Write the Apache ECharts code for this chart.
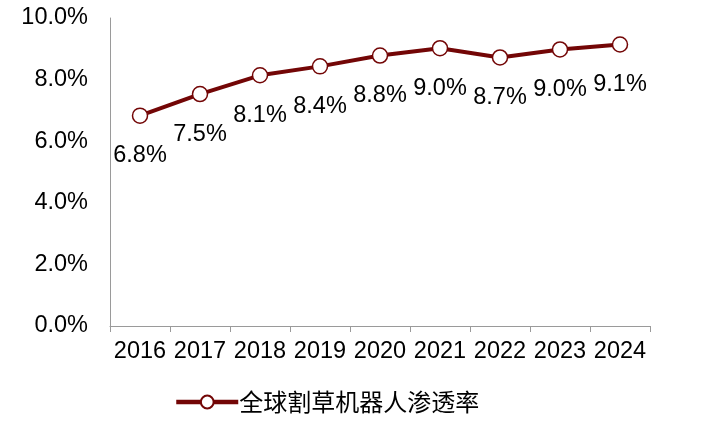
<!DOCTYPE html>
<html>
<head>
<meta charset="utf-8">
<script src="https://cdn.jsdelivr.net/npm/echarts@6/dist/echarts.min.js"></script>
<style>html,body{margin:0;padding:0;background:#fff}#c{width:713px;height:423px}</style>
</head>
<body>
<div id="c"></div>
<script>
const categories = ['2016','2017','2018','2019','2020','2021','2022','2023','2024'];
const penetration = [6.83, 7.53, 8.14, 8.43, 8.78, 9.02, 8.72, 8.98, 9.14];
const seriesName = '全球割草机器人渗透率';
const yTicks = { min: 0, max: 10, interval: 2 };

const FONT = 'Liberation Sans, Arial, sans-serif';
const chart = echarts.init(document.getElementById('c'));
chart.setOption({
  animation: false,
  grid: { left: 110, right: 63, top: 18, bottom: 97 },
  xAxis: {
    type: 'category',
    data: categories,
    boundaryGap: true,
    axisLine: { lineStyle: { color: '#9a9a9a', width: 1 } },
    axisTick: { show: true, interval: 0, alignWithLabel: false, length: 6, lineStyle: { color: '#9a9a9a' } },
    axisLabel: { interval: 0, hideOverlap: false, color: '#000', fontSize: 23.5, fontFamily: FONT, margin: 14 }
  },
  yAxis: {
    type: 'value',
    min: yTicks.min, max: yTicks.max, interval: yTicks.interval,
    axisLine: { show: true, lineStyle: { color: '#9a9a9a', width: 1 } },
    axisTick: { show: false },
    splitLine: { show: false },
    axisLabel: { color: '#000', fontSize: 23.5, fontFamily: FONT, margin: 22,
      formatter: v => v.toFixed(1) + '%' }
  },
  legend: {
    bottom: 4, left: 169,
    itemWidth: 62, itemHeight: 16, itemGap: 10,
    data: [seriesName],
    lineStyle: { width: 4.5, color: '#730606' },
    textStyle: { color: '#000', fontSize: 24, fontFamily: 'Noto Sans CJK SC, sans-serif', padding: [0, 0, 0, -4] }
  },
  series: [{
    name: seriesName,
    type: 'line',
    data: penetration,
    symbol: 'circle',
    symbolSize: 15,
    lineStyle: { color: '#730606', width: 4 },
    itemStyle: { color: '#fff', borderColor: '#730606', borderWidth: 1.5 },
    label: { show: true, position: 'bottom', distance: 20, color: '#000', fontSize: 23.5,
      fontFamily: FONT,
      formatter: p => p.value.toFixed(1) + '%' }
  }]
});
</script>
</body>
</html>
